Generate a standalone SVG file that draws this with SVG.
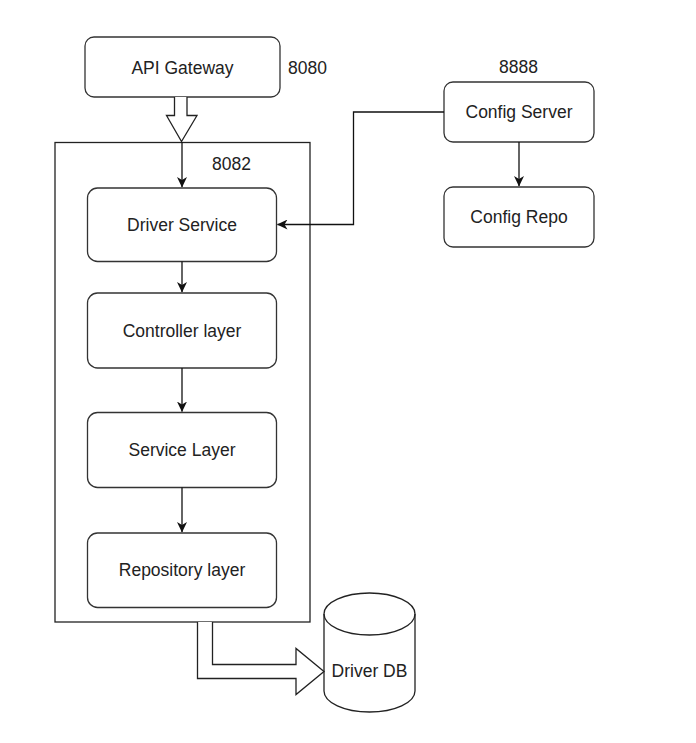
<svg xmlns="http://www.w3.org/2000/svg" width="696" height="743" viewBox="0 0 696 743">
<style>
.box{fill:#fff;stroke:#333;stroke-width:1.3}
.plain{fill:#fff;stroke:#222;stroke-width:1.3}
.t{font-family:"Liberation Sans",Arial,sans-serif;font-size:17.5px;fill:#222;text-anchor:middle}
.l{font-family:"Liberation Sans",Arial,sans-serif;font-size:17.5px;fill:#222}
.e{fill:none;stroke:#111;stroke-width:1.3}
.flex{fill:#fff;stroke:#222;stroke-width:1.3;stroke-linejoin:miter}
</style>
<defs>
<marker id="ah" markerWidth="11" markerHeight="10" refX="10" refY="5" orient="auto" markerUnits="userSpaceOnUse">
<path d="M0,0 L10.5,5 L0,10 L3,5 Z" fill="#111"/>
</marker>
</defs>
<rect width="696" height="743" fill="#fff"/>
<g id="container">
<rect class="plain" x="55" y="142.5" width="255" height="479.5"/>
<text class="l" x="212" y="170">8082</text>
</g>
<g id="api-gateway">
<rect class="box" x="85" y="37" width="195" height="60" rx="9"/>
<text class="t" x="182.5" y="73.5">API Gateway</text>
<text class="l" x="288" y="74">8080</text>
</g>
<g id="driver-service">
<rect class="box" x="87.5" y="188" width="189" height="73.5" rx="10"/>
<text class="t" x="182" y="230.5">Driver Service</text>
</g>
<g id="controller-layer">
<rect class="box" x="87.5" y="293" width="189" height="75" rx="10"/>
<text class="t" x="182" y="336.5">Controller layer</text>
</g>
<g id="service-layer">
<rect class="box" x="87.5" y="412.5" width="189" height="75" rx="10"/>
<text class="t" x="182" y="455.5">Service Layer</text>
</g>
<g id="repository-layer">
<rect class="box" x="87.5" y="533" width="189" height="74.5" rx="10"/>
<text class="t" x="182" y="576">Repository layer</text>
</g>
<g id="config-server">
<rect class="box" x="444" y="82" width="150" height="60" rx="9"/>
<text class="t" x="519" y="118">Config Server</text>
<text class="t" x="518.5" y="73">8888</text>
</g>
<g id="config-repo">
<rect class="box" x="444" y="187" width="150" height="60" rx="9"/>
<text class="t" x="519" y="223">Config Repo</text>
</g>
<g id="driver-db">
<path class="plain" d="M324,614 A45.5,21 0 0 1 415,614 V691 A45.5,21 0 0 1 324,691 Z"/>
<path class="e" d="M324,614 A45.5,21 0 0 0 415,614" style="stroke:#222"/>
<text class="t" x="369.5" y="677">Driver DB</text>
</g>
<g id="connectors">
<path class="flex" d="M174.5,97 V115.5 H166.5 L181.5,141.5 L197,115.5 H187 V97"/>
<path class="e" d="M182,142 V187" marker-end="url(#ah)"/>
<path class="e" d="M182,261.5 V292" marker-end="url(#ah)"/>
<path class="e" d="M182,368 V411.5" marker-end="url(#ah)"/>
<path class="e" d="M182,487.5 V532" marker-end="url(#ah)"/>
<path class="e" d="M519,142 V186" marker-end="url(#ah)"/>
<path class="e" d="M444,112 H353.5 V224.5 H277.5" marker-end="url(#ah)"/>
<path class="flex" d="M197.5,622 V678.5 H296 V694.5 L324,671.5 L296,648.5 V664.5 H212.5 V622"/>
</g>
</svg>
